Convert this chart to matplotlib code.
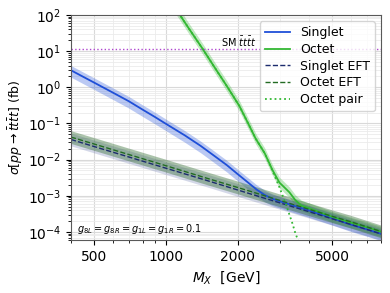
import matplotlib
matplotlib.use("Agg")
import matplotlib.pyplot as plt
import matplotlib.ticker as mticker
import numpy as np

# masses in GeV and cross sections in fb
mass_singlet = [400, 450, 500, 600, 700, 800, 900, 1000, 1200, 1400, 1600, 1800, 2000,
                2200, 2400, 2600, 2800, 3000, 4000, 5000, 6000, 7000, 8000]
xs_singlet = [2.95, 1.95, 1.35, 0.71, 0.41, 0.24, 0.151, 0.098, 0.047, 0.024, 0.0126,
              0.0071, 0.004, 0.0024, 0.0015, 0.00105, 0.00083, 0.00071, 0.00039,
              0.00024, 0.000158, 0.000117, 0.000089]

mass_octet = [1100, 1146, 1250, 1422, 1600, 1800, 2038, 2200, 2383, 2600, 2800, 3000, 3080,
              3300, 3500, 3700, 4000, 5000, 6000, 7000, 8000]
xs_octet = [150, 100, 42, 12, 3.6, 1.1, 0.30, 0.11, 0.038, 0.015, 0.0052, 0.0023, 0.00195,
            0.00125, 0.00075, 0.00054, 0.00045, 0.00026, 0.00018, 0.000135, 0.000102]

mass_pair = [1100, 1146, 1250, 1422, 1600, 1800, 2038, 2200, 2383, 2600, 2800, 3000, 3200,
             3400, 3500, 3650]
xs_pair = [150, 100, 42, 12, 3.6, 1.1, 0.30, 0.11, 0.038, 0.015, 0.005, 0.0017, 0.00055,
           0.00017, 0.00009, 0.000045]

mass_eft = [400, 500, 700, 1000, 1500, 2000, 3000, 4000, 5000, 6000, 8000]
xs_singlet_eft = [0.036, 0.023, 0.0118, 0.0058, 0.0026, 0.00145, 0.00064, 0.00036,
                  0.00023, 0.00016, 0.000088]
xs_octet_eft = [0.042, 0.027, 0.0138, 0.0068, 0.003, 0.0017, 0.00075, 0.00042,
                0.00027, 0.00019, 0.000103]

xs_sm = 11.5

# scale uncertainty factors (up, down)
unc_singlet = (1.35, 1.55)
unc_octet = (1.4, 1.4)
unc_eft = (1.5, 1.5)

c_singlet = "#1f4fd8"
c_octet = "#33b833"
c_singlet_eft = "#1c2c6e"
c_octet_eft = "#236b23"

fig, ax = plt.subplots(figsize=(3.9, 2.93), dpi=100)
fig.subplots_adjust(left=0.182, right=0.977, top=0.949, bottom=0.181)

ms = np.array(mass_singlet)
xs = np.array(xs_singlet)
ax.fill_between(ms, xs / unc_singlet[1], xs * unc_singlet[0], color=c_singlet, alpha=0.3, lw=0)
ax.plot(ms, xs, color=c_singlet, lw=1.3, label="Singlet")

mo = np.array(mass_octet)
xo = np.array(xs_octet)
ax.fill_between(mo, xo / unc_octet[1], xo * unc_octet[0], color=c_octet, alpha=0.3, lw=0)
ax.plot(mo, xo, color=c_octet, lw=1.3, label="Octet")

me = np.array(mass_eft)
xse = np.array(xs_singlet_eft)
xoe = np.array(xs_octet_eft)
ax.fill_between(me, xse / unc_eft[1], xse * unc_eft[0], color="#2a3f90", alpha=0.2, lw=0)
ax.fill_between(me, xoe / unc_eft[1], xoe * unc_eft[0], color="#2f6a2f", alpha=0.4, lw=0)
ax.plot(me, xse, color=c_singlet_eft, lw=1.0, ls="--", label="Singlet EFT")
ax.plot(me, xoe, color=c_octet_eft, lw=1.0, ls="--", label="Octet EFT")

ax.plot(mass_pair, xs_pair, color=c_octet, lw=1.3, ls=":", label="Octet pair")

ax.axhline(xs_sm, color="#b045d0", lw=1.0, ls=":")
ax.text(0.485, xs_sm * 1.12, r"SM $\bar{t}t\bar{t}t$", fontsize=7,
        transform=ax.get_yaxis_transform())

ax.text(0.02, 0.035, r"$g_{8L}=g_{8R}=g_{1L}=g_{1R}=0.1$", fontsize=7,
        transform=ax.transAxes)

ax.set_xscale("log")
ax.set_yscale("log")
ax.set_xlim(400, 8000)
ax.set_ylim(6e-5, 1e2)
ax.set_xticks([500, 1000, 2000, 5000])
ax.set_xticklabels(["500", "1000", "2000", "5000"])
ax.xaxis.set_minor_formatter(mticker.NullFormatter())
ax.tick_params(labelsize=10)
ax.grid(True, which="major", color="0.85", lw=0.8)
ax.grid(True, which="minor", color="0.92", lw=0.6)
ax.set_axisbelow(True)
for sp in ax.spines.values():
    sp.set_color("0.35")

ax.set_xlabel(r"$M_X$  [GeV]", fontsize=10)
ax.set_ylabel(r"$\sigma[pp\rightarrow\bar{t}t\bar{t}t]$ (fb)", fontsize=9, labelpad=2)
ax.legend(loc="upper right", fontsize=9, handlelength=2.0, labelspacing=0.3)

fig.savefig("out.png", dpi=100)
